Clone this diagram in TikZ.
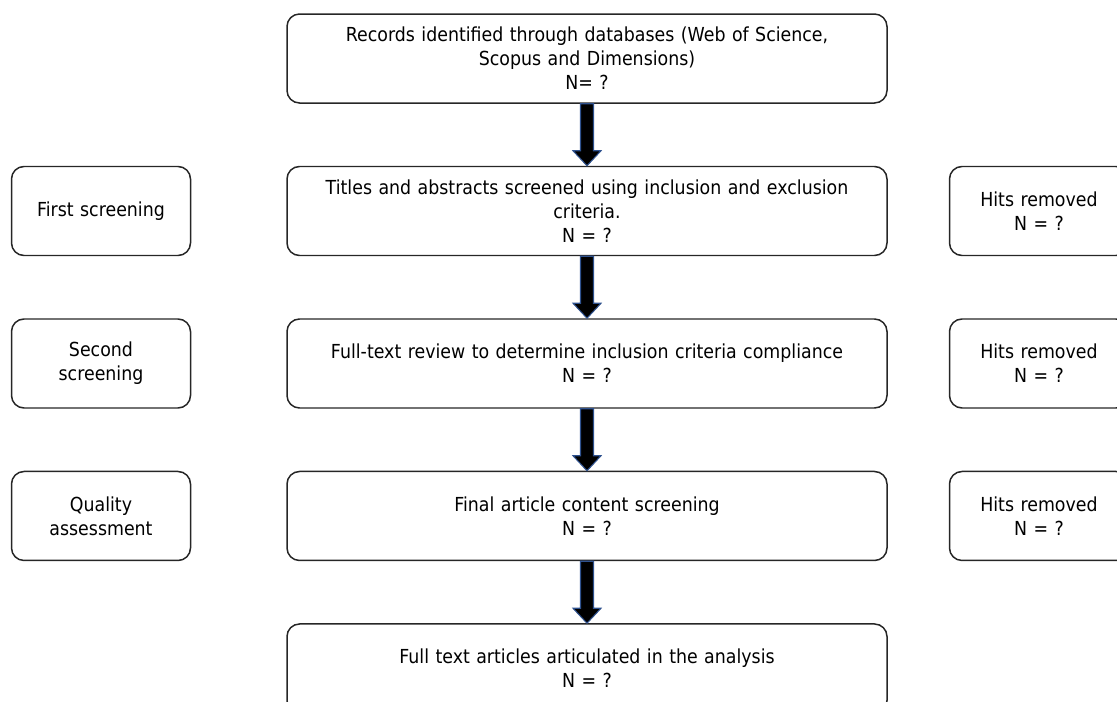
\documentclass[tikz,border=0pt]{standalone}
\usepackage{fontspec}
\setmainfont{DejaVu Sans}[FakeStretch=0.9]
\usepackage{tikz}
\usetikzlibrary{positioning,calc}
\definecolor{arrowblue}{HTML}{2F528F}

\begin{document}
\begin{tikzpicture}
		\tikzset{box/.style={draw=black!85,line width=0.85pt,rounded corners=0.25cm,align=center,
				text width=11.6cm,minimum width=12cm,minimum height=1.78cm,inner sep=0pt,
				font=\fontsize{11}{13.6}\selectfont}};
		\tikzset{side/.style={box,text width=3.4cm,minimum width=3.58cm}};
		\tikzset{fatarrow/.style={draw=arrowblue,fill=black,line width=0.6pt,
				to path={let \p1=(\tikztostart), \p2=(\tikztotarget) in
					(\x1-0.13cm,\y1) -- (\x1-0.13cm,\y2+0.3cm) -- (\x1-0.28cm,\y2+0.3cm) -- (\x2,\y2)
					-- (\x1+0.28cm,\y2+0.3cm) -- (\x1+0.13cm,\y2+0.3cm) -- (\x1+0.13cm,\y1) -- cycle}}};
		
		\useasboundingbox (0,0) rectangle (22.34,-14.02);
		\clip (0,0) rectangle (22.34,-14.02);
		
		\node (rec) at (11.74,-1.17) [box]{Records identified through databases (Web of Science,\\ Scopus and Dimensions)\\ N= ?};
		\node (tit) [box,below=1.24cm of rec]{Titles and abstracts screened using inclusion and exclusion\\ criteria.\\ N = ?};
		\node (full) [box,below=1.24cm of tit]{Full-text review to determine inclusion criteria compliance\\ N = ?};
		\node (fin) [box,below=1.24cm of full]{Final article content screening\\ N = ?};
		\node (art) [box,below=1.24cm of fin]{Full text articles articulated in the analysis\\ N = ?};
		
		\node (first) [side,left=1.9cm of tit]{First screening};
		\node (second) [side,left=1.9cm of full]{Second\\ screening};
		\node (quality) [side,left=1.9cm of fin]{Quality\\ assessment};
		
		\node (hits1) [side,right=1.22cm of tit]{Hits removed\\ N = ?};
		\node (hits2) [side,right=1.22cm of full]{Hits removed\\ N = ?};
		\node (hits3) [side,right=1.22cm of fin]{Hits removed\\ N = ?};
		
		\foreach \a/\b in {rec/tit,tit/full,full/fin,fin/art}
		\draw [fatarrow] (\a.south) to (\b.north);
\end{tikzpicture}
\end{document}
